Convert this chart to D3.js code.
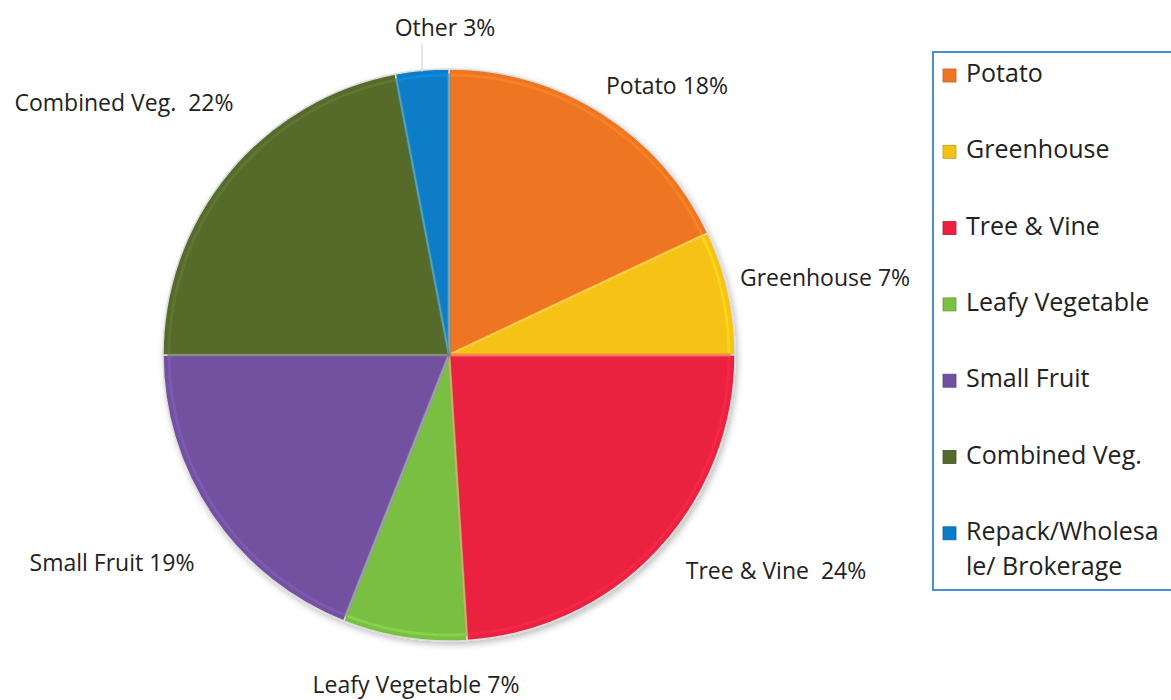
<!DOCTYPE html>
<html>
<head>
<meta charset="utf-8">
<script src="https://cdn.jsdelivr.net/npm/d3@7"></script>
<style>
  body { margin: 0; background: #fff; }
  svg text { font-family: "Open Sans", Lato, sans-serif; fill: #222; }
</style>
</head>
<body>
<svg id="chart" width="1171" height="700"></svg>
<script>
// slice data, clockwise from 12 o'clock
var categories = ["Potato", "Greenhouse", "Tree & Vine", "Leafy Vegetable", "Small Fruit", "Combined Veg.", "Other"];
var values = [18, 7, 24, 7, 19, 22, 3];
var sliceLabels = ["Potato 18%", "Greenhouse 7%", "Tree & Vine  24%", "Leafy Vegetable 7%", "Small Fruit 19%", "Combined Veg.  22%", "Other 3%"];
var legendLabels = [["Potato"], ["Greenhouse"], ["Tree & Vine"], ["Leafy Vegetable"], ["Small Fruit"], ["Combined Veg."], ["Repack/Wholesa", "le/ Brokerage"]];
var colors = ["#ee7623", "#f6c219", "#ea2240", "#79c043", "#7251a1", "#566a2c", "#0a7dc8"];

var svg = d3.select("#chart");
var cx = 449, cy = 355, r = 286;

var defs = svg.append("defs");
var f = defs.append("filter").attr("id", "shadow").attr("x", "-10%").attr("y", "-10%").attr("width", "120%").attr("height", "120%");
f.append("feDropShadow").attr("dx", 2).attr("dy", 3).attr("stdDeviation", 3).attr("flood-color", "#000").attr("flood-opacity", 0.25);

var pie = d3.pie().sort(null).value(function(d) { return d; });
var arcs = pie(values);
var arc = d3.arc().innerRadius(0).outerRadius(r);
var innerArc = d3.arc().innerRadius(0).outerRadius(r - 6);

var g = svg.append("g").attr("transform", "translate(" + cx + "," + cy + ")");

g.append("g").attr("filter", "url(#shadow)")
  .selectAll("path.slice")
  .data(arcs)
  .enter()
  .append("path")
  .attr("class", "slice")
  .attr("d", arc)
  .attr("fill", function(d, i) { return colors[i]; })
  .attr("stroke", "#dcdcdc")
  .attr("stroke-width", 1.5);

// faint bevel highlight
g.selectAll("path.bevel")
  .data(arcs)
  .enter()
  .append("path")
  .attr("class", "bevel")
  .attr("d", innerArc)
  .attr("fill", "none")
  .attr("stroke", function(d, i) { return d3.color(colors[i]).brighter(0.5); })
  .attr("stroke-width", 3)
  .attr("opacity", 0.5);

// slice labels, anchors
var labelPos = [
  [667, 88],
  [825, 280],
  [776, 573],
  [416, 687],
  [112, 565],
  [124, 105],
  [445, 30]
];

svg.append("line")
  .attr("x1", 422).attr("y1", 44).attr("x2", 422).attr("y2", 72)
  .attr("stroke", "#ccc").attr("stroke-width", 1);

svg.selectAll("text.slabel")
  .data(sliceLabels)
  .enter()
  .append("text")
  .attr("class", "slabel")
  .attr("x", function(d, i) { return labelPos[i][0]; })
  .attr("y", function(d, i) { return labelPos[i][1]; })
  .attr("text-anchor", "middle")
  .attr("dominant-baseline", "middle")
  .attr("font-size", 23)
  .style("white-space", "pre")
  .text(function(d) { return d; });

// legend
var lg = svg.append("g");
lg.append("rect")
  .attr("x", 933).attr("y", 52).attr("width", 250).attr("height", 538)
  .attr("fill", "#fff").attr("stroke", "#4a90d0").attr("stroke-width", 2);

var item = lg.selectAll("g.item")
  .data(legendLabels)
  .enter()
  .append("g")
  .attr("class", "item")
  .attr("transform", function(d, i) { return "translate(0," + (75 + i * 76.3) + ")"; });

item.append("rect")
  .attr("x", 943).attr("y", -6).attr("width", 13).attr("height", 13)
  .attr("fill", function(d, i) { return colors[i]; })
  .attr("stroke", function(d, i) { return d3.color(colors[i]).darker(0.6); })
  .attr("stroke-width", 0.8);

item.append("text")
  .attr("x", 966)
  .attr("y", 0)
  .attr("dominant-baseline", "middle")
  .attr("font-size", 25)
  .selectAll("tspan")
  .data(function(d) { return d; })
  .enter()
  .append("tspan")
  .attr("x", 966)
  .attr("dy", function(d, j) { return j === 0 ? 0 : 35; })
  .text(function(d) { return d; });
</script>
</body>
</html>
